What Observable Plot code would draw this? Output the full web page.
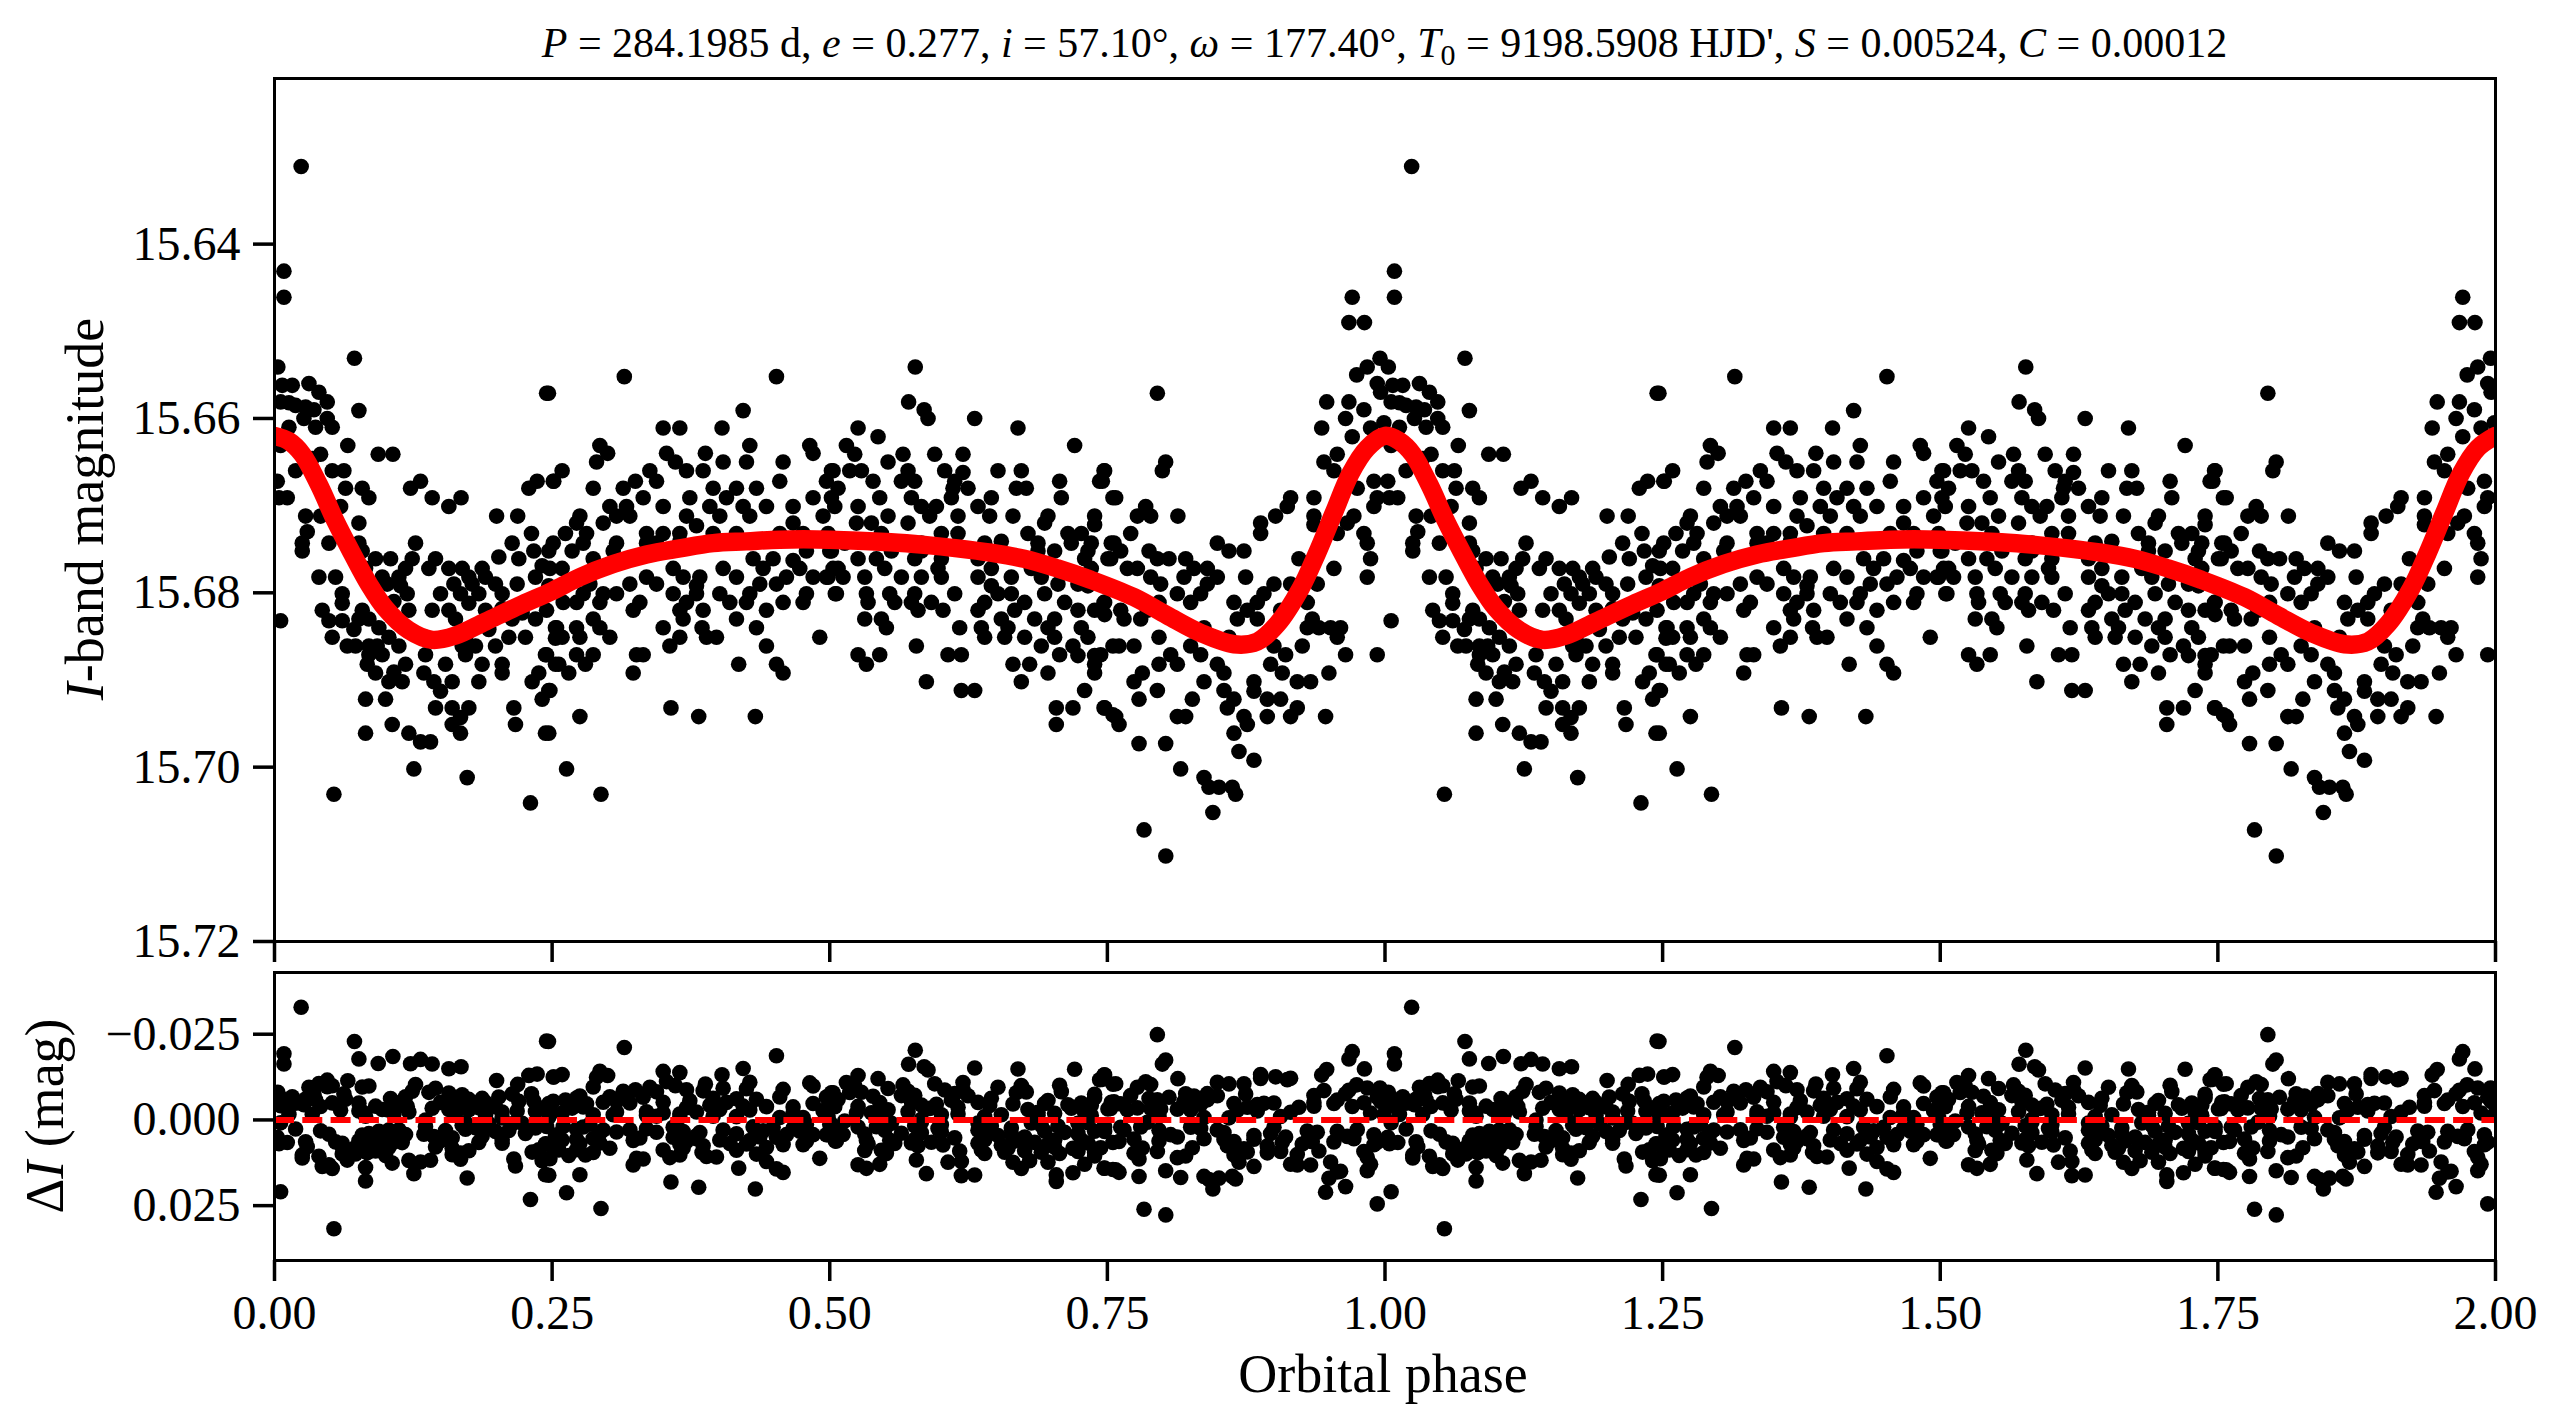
<!DOCTYPE html>
<html>
<head>
<meta charset="utf-8">
<script src="https://cdn.jsdelivr.net/npm/d3@7"></script>
<script src="https://cdn.jsdelivr.net/npm/@observablehq/plot@0.6"></script>
<style>
  body { margin: 0; background: #fff; }
  #wrap { position: relative; width: 2563px; height: 1428px; background: #fff; }
  #wrap svg { position: absolute; left: 0; top: 0; }
</style>
</head>
<body>
<div id="wrap"></div>
<script>
// ---------------- DATA ----------------
// Title parameters
const titleParts = [
  ["P", " = 284.1985 d, "], ["e", " = 0.277, "], ["i", " = 57.10°, "], ["ω", " = 177.40°, "],
  ["T", "0", " = 9198.5908 HJD', "], ["S", " = 0.00524, "], ["C", " = 0.00012"]
];
const xTicks = [0, 0.25, 0.5, 0.75, 1.0, 1.25, 1.5, 1.75, 2.0];
const yTicksTop = [15.64, 15.66, 15.68, 15.70, 15.72];
const yTicksRes = [-0.025, 0, 0.025];

// Model light curve (phase, I mag) for one orbital cycle
const modelPhase = [0.000, 0.013, 0.025, 0.040, 0.055, 0.070, 0.085, 0.100, 0.121, 0.142, 0.163, 0.190, 0.220, 0.250,
  0.275, 0.305, 0.335, 0.365, 0.395, 0.425, 0.455, 0.500, 0.555, 0.585, 0.615, 0.645, 0.675, 0.705, 0.735, 0.774,
  0.804, 0.834, 0.864, 0.885, 0.903, 0.924, 0.939, 0.954, 0.969, 0.984, 1.000];
const modelMag = [15.6620, 15.6626, 15.6641, 15.6676, 15.6718, 15.6755, 15.6790, 15.6818, 15.6843, 15.6854, 15.6849, 15.6833, 15.6815, 15.6798,
  15.6782, 15.6767, 15.6756, 15.6749, 15.6743, 15.6741, 15.6739, 15.6739, 15.6742, 15.6745, 15.6749, 15.6754, 15.6761, 15.6772, 15.6785, 15.6805,
  15.6826, 15.6846, 15.6859, 15.6856, 15.6836, 15.6795, 15.6754, 15.6708, 15.6663, 15.6634, 15.6620];

// Observations [phase, I mag], phase 0.00–0.25
const obsQ1 = [
[0.024,15.6311],[0.0085,15.6431],[0.0085,15.6461],[0.072,15.6531],[0.245,15.6571],[0.003,15.6541],
[0.007,15.6562],[0.016,15.6562],[0.031,15.6560],[0.040,15.6570],[0.0475,15.6581],
[0.0055,15.6581],[0.013,15.6582],[0.019,15.6585],[0.028,15.6587],[0.0355,15.6590],
[0.076,15.6591],[0.0265,15.6600],[0.0475,15.6600],[0.037,15.6610],[0.052,15.6610],[0.013,15.6610],
[0.066,15.6631],[0.0055,15.6631],[0.0415,15.6641],[0.0934,15.6641],[0.1066,15.6641],[0.034,15.6646],
[0.019,15.6660],[0.052,15.6660],[0.0625,15.6660],[0.0025,15.6672],[0.1315,15.6672],[0.1225,15.6680],
[0.064,15.6680],[0.079,15.6680],[0.004,15.6691],[0.0115,15.6691],[0.085,15.6691],[0.142,15.6691],[0.168,15.6691],
[0.157,15.6701],[0.0595,15.6701],[0.2365,15.6672],[0.2515,15.6672],[0.229,15.6680],[0.200,15.6712],[0.219,15.6712],
[0.028,15.6712],[0.0415,15.6712],[0.076,15.6720],[0.0295,15.6730],[0.2314,15.6732],
[0.025,15.6743],[0.049,15.6743],[0.127,15.6743],[0.076,15.6743],[0.214,15.6743],
[0.025,15.6752],[0.079,15.6752],[0.2335,15.6752],[0.247,15.6752],
[0.091,15.6761],[0.1045,15.6761],[0.124,15.6761],[0.145,15.6761],[0.220,15.6761],
[0.082,15.6772],[0.118,15.6772],[0.139,15.6772],[0.157,15.6772],[0.169,15.6772],[0.187,15.6772],[0.202,15.6759],[0.241,15.6769],
[0.040,15.6782],[0.055,15.6782],[0.097,15.6782],[0.112,15.6782],[0.175,15.6782],[0.190,15.6782],[0.235,15.6782],
[0.1015,15.6790],[0.1135,15.6792],[0.1615,15.6790],[0.178,15.6790],[0.199,15.6790],[0.2185,15.6790],[0.247,15.6792],
[0.061,15.6801],[0.1195,15.6801],[0.1495,15.6801],[0.1675,15.6801],[0.184,15.6801],[0.205,15.6801],
[0.1075,15.6810],[0.175,15.6812],[0.061,15.6812],
[0.043,15.6820],[0.079,15.6820],[0.121,15.6820],[0.142,15.6820],[0.157,15.6820],[0.163,15.6830],[0.190,15.6820],[0.205,15.6818],[0.223,15.6823],
[0.0055,15.6832],[0.049,15.6832],[0.061,15.6832],[0.076,15.6830],[0.085,15.6830],[0.094,15.6840],
[0.0715,15.6842],[0.193,15.6842],[0.214,15.6830],[0.235,15.6830],[0.253,15.6840],
[0.052,15.6851],[0.103,15.6851],[0.136,15.6851],[0.172,15.6851],[0.211,15.6851],[0.226,15.6851],[0.253,15.6852],
[0.0655,15.6861],[0.073,15.6861],[0.085,15.6861],[0.0925,15.6861],[0.112,15.6861],[0.169,15.6861],[0.181,15.6861],[0.199,15.6861],
[0.085,15.6871],[0.136,15.6871],[0.172,15.6871],[0.244,15.6871],
[0.118,15.6882],[0.154,15.6882],[0.187,15.6882],[0.205,15.6882],[0.253,15.6882],[0.0835,15.6882],[0.097,15.6871],
[0.091,15.6892],[0.1075,15.6891],[0.1345,15.6892],[0.205,15.6892],[0.238,15.6892],
[0.103,15.6902],[0.115,15.6902],[0.1435,15.6902],[0.160,15.6902],[0.184,15.6902],[0.232,15.6902],
[0.1495,15.6913],[0.247,15.6912],[0.082,15.6922],[0.100,15.6922],[0.241,15.6922],
[0.145,15.6932],[0.160,15.6932],[0.175,15.6932],[0.2155,15.6932],
[0.160,15.6951],[0.1675,15.6943],[0.106,15.6951],[0.217,15.6951],
[0.082,15.6961],[0.121,15.6961],[0.1675,15.6961],[0.244,15.6961],
[0.1315,15.6971],[0.1405,15.6971],[0.1255,15.7002],[0.1735,15.7012],[0.0535,15.7031],[0.2305,15.7041]
];
// phase 0.25–0.50
const obsQ2 = [
[0.315,15.6552],[0.452,15.6552],[0.2467,15.6571],[0.422,15.6591],
[0.350,15.6611],[0.365,15.6611],[0.403,15.6611],
[0.293,15.6631],[0.300,15.6640],[0.353,15.6640],[0.388,15.6640],[0.428,15.6631],[0.482,15.6631],[0.485,15.6640],
[0.290,15.6650],[0.361,15.6650],[0.404,15.6650],[0.458,15.6650],
[0.259,15.6660],[0.251,15.6672],[0.338,15.6660],[0.371,15.6660],[0.386,15.6660],[0.425,15.6650],[0.503,15.6660],
[0.287,15.6680],[0.314,15.6680],[0.325,15.6672],[0.344,15.6672],[0.395,15.6680],[0.416,15.6680],[0.434,15.6680],[0.455,15.6672],[0.497,15.6672],
[0.302,15.6701],[0.317,15.6701],[0.332,15.6691],[0.350,15.6701],[0.374,15.6691],[0.392,15.6701],[0.407,15.6691],[0.422,15.6701],[0.443,15.6701],[0.467,15.6701],[0.485,15.6691],
[0.275,15.6712],[0.308,15.6712],[0.320,15.6712],[0.371,15.6712],[0.401,15.6712],[0.428,15.6712],[0.494,15.6712],
[0.272,15.6720],[0.296,15.6720],[0.380,15.6723],[0.467,15.6720],
[0.262,15.6732],[0.281,15.6732],[0.335,15.6732],[0.350,15.6732],[0.365,15.6732],[0.395,15.6732],[0.416,15.6732],[0.455,15.6732],[0.476,15.6732],
[0.251,15.6743],[0.278,15.6743],[0.308,15.6743],[0.335,15.6743],[0.344,15.6743],[0.365,15.6741],
[0.268,15.6752],[0.305,15.6752],[0.479,15.6752],[0.500,15.6752],
[0.287,15.6761],[0.431,15.6761],[0.449,15.6761],[0.467,15.6763],
[0.248,15.6772],[0.259,15.6772],[0.359,15.6772],[0.404,15.6772],[0.440,15.6772],[0.473,15.6772],[0.503,15.6772],
[0.335,15.6782],[0.368,15.6782],[0.383,15.6782],[0.416,15.6782],[0.461,15.6782],[0.485,15.6782],[0.497,15.6782],
[0.284,15.6790],[0.320,15.6790],[0.344,15.6790],[0.380,15.6792],[0.437,15.6790],[0.452,15.6790],
[0.278,15.6801],[0.296,15.6801],[0.308,15.6801],[0.359,15.6801],[0.380,15.6801],[0.401,15.6801],[0.428,15.6801],[0.479,15.6801],[0.505,15.6801],
[0.260,15.6811],[0.272,15.6811],[0.293,15.6811],[0.329,15.6811],[0.371,15.6811],[0.410,15.6811],[0.425,15.6811],[0.458,15.6811],[0.476,15.6811],
[0.245,15.6820],[0.323,15.6820],[0.365,15.6820],[0.386,15.6820],[0.443,15.6820],
[0.287,15.6830],[0.368,15.6830],[0.416,15.6830],
[0.254,15.6840],[0.272,15.6840],[0.293,15.6840],[0.350,15.6840],[0.385,15.6840],[0.434,15.6840],
[0.259,15.6851],[0.275,15.6851],[0.302,15.6851],[0.365,15.6851],[0.389,15.6851],[0.398,15.6851],[0.491,15.6851],
[0.356,15.6861],[0.443,15.6861],
[0.245,15.6871],[0.272,15.6871],[0.287,15.6871],[0.326,15.6871],[0.332,15.6871],
[0.256,15.6882],[0.280,15.6882],[0.418,15.6882],[0.452,15.6882],
[0.265,15.6892],[0.323,15.6892],[0.458,15.6892],
[0.248,15.6912],[0.275,15.6942],[0.357,15.6932],[0.382,15.6942],[0.433,15.6942],
[0.247,15.6961],[0.263,15.7002],[0.294,15.7031]
];
// phase 0.50–0.75
const obsQ3 = [
[0.577,15.6541],[0.571,15.6581],[0.585,15.6590],[0.5885,15.6600],[0.6305,15.6600],[0.6695,15.6611],
[0.5255,15.6611],[0.5435,15.6621],[0.515,15.6631],[0.5225,15.6641],[0.7205,15.6631],
[0.566,15.6641],[0.5945,15.6641],[0.620,15.6641],[0.5525,15.6650],
[0.5015,15.6660],[0.518,15.6660],[0.5285,15.6660],[0.5705,15.6660],[0.6035,15.6660],[0.620,15.6662],[0.6515,15.6660],[0.6725,15.6660],[0.7475,15.6660],
[0.539,15.6672],[0.5645,15.6672],[0.5765,15.6672],[0.6125,15.6672],[0.707,15.6672],[0.743,15.6672],
[0.5075,15.6680],[0.611,15.6680],[0.6245,15.6680],[0.668,15.6680],[0.677,15.6680],
[0.5015,15.6691],[0.545,15.6691],[0.5735,15.6691],[0.6095,15.6691],[0.6455,15.6691],[0.7085,15.6691],[0.755,15.6691],
[0.5045,15.6701],[0.5255,15.6701],[0.5825,15.6701],[0.596,15.6701],[0.6335,15.6701],
[0.5525,15.6712],[0.590,15.6712],[0.6155,15.6712],[0.644,15.6712],[0.665,15.6712],[0.6965,15.6712],[0.7385,15.6712],
[0.524,15.6720],[0.5375,15.6720],[0.5705,15.6720],[0.6935,15.6720],[0.7385,15.6722],
[0.4985,15.6732],[0.5465,15.6732],[0.6005,15.6732],[0.6155,15.6732],[0.6545,15.6741],[0.6785,15.6732],[0.7145,15.6732],[0.7265,15.6732],
[0.5135,15.6743],[0.5825,15.6743],[0.6395,15.6743],[0.6875,15.6743],[0.7535,15.6743],[0.7175,15.6743],[0.7355,15.6743],
[0.5015,15.6752],[0.5555,15.6752],[0.5825,15.6752],[0.6875,15.6752],[0.7025,15.6752],[0.7325,15.6752],
[0.5255,15.6761],[0.542,15.6761],[0.5765,15.6761],[0.6005,15.6761],[0.6335,15.6761],[0.7295,15.6761],[0.7505,15.6761],
[0.5075,15.6772],[0.5495,15.6772],[0.5975,15.6772],[0.6455,15.6772],[0.6815,15.6772],[0.7355,15.6772],
[0.4985,15.6782],[0.512,15.6782],[0.5315,15.6782],[0.5645,15.6782],[0.5825,15.6782],[0.6005,15.6782],[0.6335,15.6782],[0.6635,15.6782],[0.6905,15.6782],
[0.7055,15.6790],[0.7235,15.6790],[0.7325,15.6792],[0.6455,15.6792],
[0.506,15.6801],[0.533,15.6801],[0.554,15.6801],[0.5765,15.6801],[0.6125,15.6801],[0.6515,15.6801],[0.6635,15.6801],[0.6935,15.6801],
[0.5345,15.6811],[0.5585,15.6811],[0.5735,15.6811],[0.5915,15.6811],[0.6395,15.6811],[0.6755,15.6811],[0.7115,15.6811],[0.7475,15.6811],
[0.5795,15.6820],[0.602,15.6820],[0.6335,15.6820],[0.6665,15.6820],[0.7025,15.6830],[0.7235,15.6820],[0.7385,15.6820],[0.7475,15.6825],
[0.5315,15.6830],[0.5465,15.6830],[0.6545,15.6830],[0.6845,15.6830],
[0.551,15.6840],[0.617,15.6840],[0.6365,15.6840],[0.6605,15.6840],[0.6965,15.6840],[0.7265,15.6840],
[0.6395,15.6851],[0.6575,15.6851],[0.6755,15.6851],[0.7025,15.6851],[0.7325,15.6851],
[0.578,15.6861],[0.6905,15.6861],[0.719,15.6861],[0.755,15.6861],
[0.5255,15.6871],[0.545,15.6871],[0.6065,15.6871],[0.6185,15.6871],[0.707,15.6871],[0.7235,15.6872],[0.7385,15.6872],
[0.533,15.6882],[0.665,15.6882],[0.680,15.6882],[0.7385,15.6882],
[0.6965,15.6892],[0.7385,15.6892],[0.587,15.6902],[0.6725,15.6902],
[0.6185,15.6912],[0.6305,15.6912],[0.7295,15.6912],
[0.704,15.6932],[0.719,15.6932],[0.7475,15.6932],[0.755,15.6940],[0.704,15.6951]
];
// phase 0.75–1.00
const obsQ4 = [
[0.9705,15.6461],[0.9675,15.6490],[0.9815,15.6490],[0.9955,15.6531],
[0.9745,15.6550],[0.984,15.6541],[0.993,15.6560],[0.996,15.6570],
[0.795,15.6571],[0.9475,15.6581],[0.9675,15.6581],[0.981,15.6590],
[0.9645,15.6600],[0.987,15.6611],[0.943,15.6611],[0.9705,15.6621],[0.999,15.6605],
[0.945,15.6650],[0.957,15.6641],[0.954,15.6660],[0.8025,15.6650],[0.7995,15.6660],
[0.747,15.6660],[0.7455,15.6672],[0.990,15.6672],[0.975,15.6680],
[0.7575,15.6691],[0.915,15.6691],[0.936,15.6691],[0.993,15.6691],
[0.7845,15.6701],[0.912,15.6701],[0.990,15.6701],
[0.777,15.6712],[0.789,15.6712],[0.8135,15.6712],[0.9015,15.6712],[0.936,15.6712],[0.972,15.6712],
[0.888,15.6720],[0.936,15.6722],[0.966,15.6720],
[0.771,15.6732],[0.888,15.6732],[0.981,15.6732],[0.957,15.6732],
[0.756,15.6743],[0.849,15.6743],[0.984,15.6743],
[0.7875,15.6752],[0.8595,15.6752],[0.873,15.6752],[0.762,15.6752],
[0.795,15.6761],[0.8055,15.6761],[0.8205,15.6761],[0.9225,15.6761],[0.987,15.6761],[0.753,15.6761],
[0.768,15.6772],[0.777,15.6772],[0.828,15.6772],[0.840,15.6772],[0.954,15.6772],
[0.789,15.6782],[0.819,15.6782],[0.849,15.6782],[0.8745,15.6782],[0.984,15.6782],
[0.798,15.6790],[0.840,15.6790],[0.900,15.6790],[0.915,15.6790],[0.939,15.6790],
[0.813,15.6801],[0.834,15.6801],[0.891,15.6801],
[0.747,15.6811],[0.7965,15.6811],[0.825,15.6811],[0.864,15.6811],[0.885,15.6811],[0.930,15.6811],
[0.762,15.6820],[0.786,15.6820],[0.876,15.6820],[0.906,15.6820],
[0.867,15.6830],[0.9345,15.6830],[0.885,15.6830],[0.780,15.6830],[0.765,15.6830],
[0.837,15.6840],[0.930,15.6840],[0.9405,15.6840],[0.951,15.6840],[0.960,15.6840],
[0.7965,15.6851],[0.825,15.6861],[0.8595,15.6851],[0.957,15.6851],
[0.7605,15.6861],[0.774,15.6861],[0.9255,15.6861],[0.900,15.6861],
[0.807,15.6871],[0.834,15.6871],[0.9105,15.6871],[0.9645,15.6871],[0.993,15.6871],[0.744,15.6871],
[0.7965,15.6882],[0.813,15.6882],[0.849,15.6882],[0.897,15.6882],
[0.7815,15.6892],[0.855,15.6892],[0.9075,15.6892],[0.9495,15.6892],
[0.774,15.6902],[0.837,15.6902],[0.882,15.6902],[0.921,15.6902],[0.933,15.6902],
[0.795,15.6912],[0.855,15.6912],[0.882,15.6913],
[0.7785,15.6922],[0.8265,15.6922],[0.864,15.6922],[0.894,15.6922],[0.906,15.6922],
[0.858,15.6932],[0.921,15.6932],[0.747,15.6932],
[0.813,15.6942],[0.8205,15.6942],[0.873,15.6942],[0.894,15.6942],[0.915,15.6942],[0.9465,15.6942],
[0.7575,15.6942],[0.7605,15.6951],[0.876,15.6951],[0.864,15.6961],
[0.7785,15.6973],[0.8025,15.6973],[0.8685,15.6982],[0.882,15.6992],[0.816,15.7002],
[0.837,15.7012],[0.8415,15.7023],[0.8505,15.7023],[0.8625,15.7023],[0.8655,15.7031],
[0.845,15.7052],[0.783,15.7072],[0.8026,15.7102]
];

// ---------------- BUILD ----------------
const FONT = "'Liberation Serif','Times New Roman','DejaVu Serif',serif";
const W = 2563, H = 1428;
const mL = 274, mR = W - 2495;

function modelAt(p) {
  const i = Math.min(Math.max(d3.bisectRight(modelPhase, p), 1), modelPhase.length - 1);
  const p0 = modelPhase[i - 1], p1 = modelPhase[i];
  const t = (p - p0) / (p1 - p0);
  return modelMag[i - 1] + t * (modelMag[i] - modelMag[i - 1]);
}

const obsOne = [...obsQ1, ...obsQ2, ...obsQ3, ...obsQ4].map(([p, m]) => ({phase: p, mag: m, res: m - modelAt(p)}));
const obs = [...obsOne, ...obsOne.map(d => ({...d, phase: d.phase + 1}))];

const model = modelPhase.map((p, i) => ({phase: p, mag: modelMag[i]}));
const modelPts = [...model, ...model.slice(1).map(d => ({phase: d.phase + 1, mag: d.mag}))];

const fmt2 = d3.format(".2f");
const fmt3 = d3.format(".3f");
const styleObj = {background: "transparent", overflow: "visible", fontFamily: FONT, color: "black"};

const topPlot = Plot.plot({
  width: W, height: H,
  marginTop: 78, marginBottom: H - 941, marginLeft: mL, marginRight: mR,
  style: styleObj,
  x: {domain: [0, 2]},
  y: {domain: [15.621, 15.72], reverse: true},
  marks: [
    Plot.dot(obs, {x: "phase", y: "mag", r: 7.8, fill: "black", stroke: "none", clip: true}),
    Plot.line(modelPts, {x: "phase", y: "mag", stroke: "#ff0000", strokeWidth: 18.5, curve: "catmull-rom", clip: true}),
    Plot.frame({stroke: "black", strokeWidth: 3}),
    Plot.axisY({ticks: yTicksTop, tickFormat: fmt2, tickSize: 21, tickPadding: 13, fontSize: 48, strokeWidth: 3.5, label: null}),
    Plot.axisX({ticks: xTicks, tickFormat: () => "", tickSize: 21, strokeWidth: 3.5, label: null})
  ]
});

const resPlot = Plot.plot({
  width: W, height: H,
  marginTop: 972, marginBottom: H - 1260, marginLeft: mL, marginRight: mR,
  style: styleObj,
  x: {domain: [0, 2]},
  y: {domain: [-0.043, 0.041], reverse: true},
  marks: [
    Plot.dot(obs, {x: "phase", y: "res", r: 7.8, fill: "black", stroke: "none", clip: true}),
    Plot.ruleY([0], {stroke: "#ff0000", strokeWidth: 6, strokeDasharray: "20,8.3"}),
    Plot.frame({stroke: "black", strokeWidth: 3}),
    Plot.axisY({ticks: yTicksRes, tickFormat: fmt3, tickSize: 21, tickPadding: 13, fontSize: 48, strokeWidth: 3.5, label: null}),
    Plot.axisX({ticks: xTicks, tickFormat: fmt2, tickSize: 21, tickPadding: 13, fontSize: 48, strokeWidth: 3.5, label: null})
  ]
});

const wrap = document.getElementById("wrap");
wrap.appendChild(topPlot);
wrap.appendChild(resPlot);

// Text overlay: title and axis labels
const svg = d3.select(wrap).append("svg")
  .attr("width", W).attr("height", H)
  .style("font-family", FONT).style("overflow", "visible");

const title = svg.append("text")
  .attr("x", (mL + 2495) / 2).attr("y", 57)
  .attr("text-anchor", "middle").attr("font-size", 42).attr("fill", "black");
titleParts.forEach(part => {
  title.append("tspan").attr("font-style", "italic").text(part[0]);
  if (part.length === 3) {
    title.append("tspan").attr("font-size", 30).attr("dy", 8).text(part[1]);
    title.append("tspan").attr("dy", -8).text(part[2]);
  } else {
    title.append("tspan").text(part[1]);
  }
});

const yl = svg.append("text")
  .attr("transform", "translate(103,509) rotate(-90)")
  .attr("text-anchor", "middle").attr("font-size", 54).attr("fill", "black");
yl.append("tspan").attr("font-style", "italic").text("I");
yl.append("tspan").text("-band magnitude");

const rl = svg.append("text")
  .attr("transform", "translate(63,1116) rotate(-90)")
  .attr("text-anchor", "middle").attr("font-size", 54).attr("fill", "black");
rl.append("tspan").text("Δ");
rl.append("tspan").attr("font-style", "italic").text("I");
rl.append("tspan").text(" (mag)");

svg.append("text")
  .attr("x", 1383).attr("y", 1392)
  .attr("text-anchor", "middle").attr("font-size", 54).attr("fill", "black")
  .text("Orbital phase");
</script>
</body>
</html>
